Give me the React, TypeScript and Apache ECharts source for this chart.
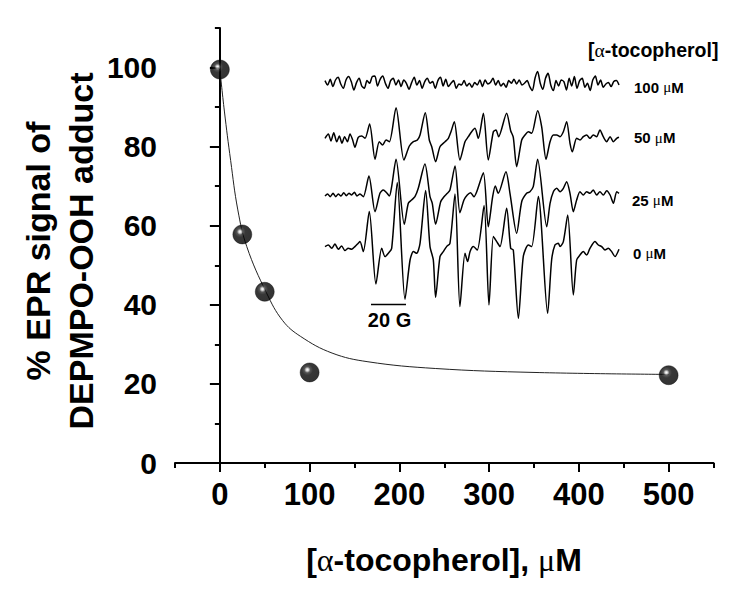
import React, { useEffect, useRef } from "react";
import * as echarts from "echarts";

// Main plot: % EPR signal vs [alpha-tocopherol]
const CONC = [0, 25, 50, 100, 500];
const SIGNAL = [99.5, 57.8, 43.3, 22.9, 22.2];

// Fitted decay curve
const FIT_X = [0, 5, 12, 20, 30, 52, 70, 90, 125, 165, 240, 350, 500];
const FIT_Y = [99.5, 89, 76.5, 64, 54.7, 43, 36, 32, 27.8, 25.6, 23.9, 22.9, 22.4];

const X_LABELS = [0, 100, 200, 300, 400, 500];
const Y_LABELS = [0, 20, 40, 60, 80, 100];

// Inset EPR spectra: [field (G), amplitude (a.u.)]
const SWEEP = 168;
const SPEC_0: number[][] = [
  [0, 1.7], [1.9, 3.3], [3.8, 0], [5.7, 4.3], [7.6, -1], [9.5, 2.3], [11.4, -2.3], [13.3, 0],
  [15.2, -1], [17.1, 1.7], [19.0, 5], [20.0, 6.7], [21.9, -3.3], [25.3, 36.7], [29.1, -35.7],
  [32.4, 0], [34.3, -8.3], [36.2, -5], [38.1, 0], [41.3, 65.7], [45.7, -51], [48.6, -11.7],
  [50.5, -3.3], [52.4, -5], [54.3, 5], [57.5, 57.7], [60.0, 1.7], [61.9, -11.7], [63.2, -49],
  [65.7, -8.3], [67.6, -3.3], [69.5, 1.7], [71.4, 5], [74.3, 54.3], [77.1, -58.3], [80.0, -5],
  [81.5, -13.3], [82.9, -3.3], [84.8, 1.7], [87.0, -1.7], [90.9, 42.7], [93.7, -56.7],
  [96.2, 11.7], [98.1, 6.7], [100, 1.7], [103.8, 40], [106.1, 0], [107.6, -1.7], [110.5, -70],
  [113.3, -8.3], [116.2, 3.3], [118.1, 1.7], [121.9, 51.7], [127.2, -65], [129.5, -11.7],
  [131.4, 3.3], [133.3, 5], [134.3, 1.7], [136.2, 6.7], [138.7, 33.3], [141.9, -46.7],
  [143.8, -11.7], [145.7, -6.7], [147.6, -3.3], [149.5, -6.7], [151.4, 0], [154.3, 6.7],
  [156.2, 3.3], [158.1, 1.7], [160.0, -1.7], [161.9, 0], [163.8, -3.3], [165.7, -8.3], [168, -1],
];
const SPEC_25: number[][] = [
  [0, -1], [1.5, 1], [3.0, -1.7], [4.6, 1.7], [6.1, -1.7], [7.6, 1], [9.1, -1], [10.7, 2.3],
  [12.2, -0.7], [13.7, 1.7], [15.2, 0], [16.8, 2.7], [18.3, -1], [20.0, 1], [21.9, -1.7],
  [25.1, 19], [28.6, -16.7], [31.4, 1.7], [33.3, 5], [35.2, 2.3], [36.8, -1], [38.1, 8.3],
  [40.6, 35.7], [45.3, -29.3], [47.6, -8.3], [49.5, -5], [51.4, -1.7], [53.3, 6.7], [57.1, 31],
  [60.0, -1.7], [61.3, -8.3], [63.2, -29.3], [66.1, -6.7], [68.0, -1.7], [69.9, 1.7], [71.4, 5],
  [74.3, 29], [77.1, -17.7], [79.4, -5], [81.3, 0], [83.2, 2.3], [85.1, -1.7], [86.7, 3.3],
  [90.5, 22.3], [93.3, -31.7], [95.8, -1.7], [97.3, 9], [99.0, 1.7], [103.4, 23.3], [105.7, 1.7],
  [109.5, -38.3], [112.4, -6.7], [115.2, 1.7], [117.1, 3.3], [119.0, 8.3], [121.5, 35.7],
  [126.7, -31.7], [128.6, -8.3], [130.5, 3.3], [132.4, 6.7], [134.3, 3.3], [136.2, 6.7],
  [138.1, 13.3], [140.0, 1.7], [141.9, -16.7], [143.8, -5], [145.7, 3.3], [147.6, 0],
  [149.5, 3.3], [151.4, 1.7], [153.3, 5], [155.2, 0], [157.1, 3.3], [159.0, 0], [161.0, 4.3],
  [162.9, 0], [164.8, -8.3], [166.7, 3.3], [168, 1.7],
];
const SPEC_50: number[][] = [
  [0, 0.7], [1.9, 5], [3.4, -2], [5.0, 6.3], [6.7, -2.7], [8.2, 3], [9.7, -4.3], [11.2, 2.3],
  [12.8, -2.7], [14.3, 5], [15.8, -1], [17.1, -8.3], [19.0, 1.7], [21.0, 3], [22.9, 0.7],
  [25.5, 15], [28.6, -20.3], [31.0, -2.7], [32.9, -6], [34.9, -1], [36.8, -2.7], [40.6, 31.3],
  [45.1, -21], [48.2, -7], [50.5, -2.7], [52.8, -1], [54.3, 4], [57.3, 26.3], [59.6, -1],
  [61.0, -7.7], [63.2, -22.7], [65.7, -7.7], [68.6, -2.7], [70.5, 0.7], [72.0, 7.3], [73.9, 17.3],
  [77.1, -21], [80.0, -2.7], [81.9, 2.3], [83.8, 7.3], [85.7, 10.7], [87.6, 0.7], [90.5, 25.7],
  [93.3, -21], [96.2, 7.3], [97.7, 9], [99.2, 2.3], [103.8, 25.7], [106.1, 8.3], [107.6, 1.7],
  [109.5, -27.7], [112.4, -1], [114.3, 4], [116.2, 7.3], [118.1, 5.7], [121.5, 28.3],
  [123.8, 12.3], [126.3, -20.3], [128.6, -2.7], [130.5, 4], [132.4, 4], [134.3, 2.3],
  [136.2, 7.3], [138.1, 17.3], [140.0, -4.3], [141.3, -12.7], [143.8, 0.7], [145.7, -1],
  [147.6, 2.3], [149.5, 4], [151.4, 0.7], [153.3, 4], [155.2, 2.3], [157.1, 9], [159.0, 2.3],
  [161.0, -2.7], [162.9, 2.3], [164.8, -2.7], [166.7, 0.7], [168, 1.7],
];
// 100 uM: noise only, read at evenly spaced field positions across the sweep
const SPEC_100_AMP = [
  2.7, -1.7, 4, -3.3, 3.3, 6, -0.7, -5, 3.3, 6.7, 1.7, -6.7, 0.7, 5, -2.7, -5, 2.7, 0, 6.7, 7.3,
  -2.7, 4, 7.3, 0, -5, 2.7, 5, -1.7, 3.3, -3.3, 3.3, 0, -6, 0.7, 6, -1.7, 2.7, -5, 1.7, 5,
  0, 1.7, -5, 2.7, 6, -2.7, 4, -3.3, 0, 2.7, -5, -0.7, -1.7, 2.7, -2.7, 0, -4, 0.7, -1.7, 3.3,
  -3.3, 3.3, -0.7, 0.7, 5, -1.7, 2.7, -2.7, 0, -4, 2.7, 0, 4, -0.7, 3.3, -1.7, 0, 2.7, -3.3, -7.3,
  5, 11.7, 0, -6, 5, 10, -1.7, -7.3, 2.7, -2.7, 3.3, 1.7, -6.7, 5, -2.7, 6.7, -5, 2.7, 5, -4,
  0, -7.3, 3.3, 7.3, -1.7, 3.3, -4, -0.7, 0.7, -3.3, 1.7, 2.7, -1.7,
];
const SPEC_100: number[][] = SPEC_100_AMP.map((a, i) => [(i * SWEEP) / (SPEC_100_AMP.length - 1), a]);

const TRACES = [
  { name: "100 μM", data: SPEC_100 },
  { name: "50 μM", data: SPEC_50 },
  { name: "25 μM", data: SPEC_25 },
  { name: "0 μM", data: SPEC_0 },
];

const FONT = "Liberation Sans";
const SERIF = "Liberation Serif";

function buildOption() {
  const ball = new echarts.graphic.RadialGradient(0.38, 0.36, 0.65, [
    { offset: 0, color: "#ffffff" },
    { offset: 0.1, color: "#cfcfcf" },
    { offset: 0.25, color: "#2a2a2a" },
    { offset: 0.45, color: "#050505" },
    { offset: 1, color: "#000000" },
  ]);

  // inset trace layout (baselines in px)
  const baselines = [83.3, 139, 195, 248.3];
  const insetLeft = 325;
  const insetWidth = 294;

  const grids: any[] = [{ left: 175, right: 36.5, top: 28, bottom: 131 }];
  const xAxes: any[] = [
    {
      gridIndex: 0, type: "value", min: -50, max: 550, interval: 50,
      axisLine: { show: true, lineStyle: { color: "#000", width: 2 } },
      axisTick: { show: true, length: 5, lineStyle: { color: "#000", width: 2 } },
      axisLabel: { show: false }, splitLine: { show: false },
    },
    {
      gridIndex: 0, type: "value", min: -50, max: 550, position: "bottom",
      axisLine: { show: false },
      axisTick: { show: true, length: 9, customValues: X_LABELS, lineStyle: { color: "#000", width: 2 } },
      axisLabel: {
        show: true, customValues: X_LABELS, margin: 16,
        fontSize: 31, fontWeight: "bold", fontFamily: FONT, color: "#000",
      },
      splitLine: { show: false },
    },
  ];
  const yAxes: any[] = [
    {
      gridIndex: 0, type: "value", min: 0, max: 110, interval: 10,
      axisLine: { show: true, lineStyle: { color: "#000", width: 2 } },
      axisTick: { show: true, length: 5, lineStyle: { color: "#000", width: 2 } },
      axisLabel: { show: false }, splitLine: { show: false },
    },
    {
      gridIndex: 0, type: "value", min: 0, max: 110, position: "left",
      axisLine: { show: false },
      axisTick: { show: true, length: 10, customValues: Y_LABELS, lineStyle: { color: "#000", width: 2 } },
      axisLabel: {
        show: true, customValues: Y_LABELS, margin: 18,
        fontSize: 30, fontWeight: "bold", fontFamily: FONT, color: "#000",
      },
      splitLine: { show: false },
    },
  ];

  const series: any[] = [
    {
      type: "line", xAxisIndex: 0, yAxisIndex: 0,
      data: FIT_X.map((x, i) => [x, FIT_Y[i]]),
      smooth: 0.4, showSymbol: false, symbol: "none",
      lineStyle: { color: "#222", width: 1 }, z: 2, silent: true,
    },
    {
      type: "scatter", xAxisIndex: 0, yAxisIndex: 0,
      data: CONC.map((x, i) => [x, SIGNAL[i]]),
      symbol: "circle", symbolSize: 19,
      itemStyle: { color: ball, borderColor: "#000", borderWidth: 0.5 }, z: 3,
    },
  ];

  TRACES.forEach((t, k) => {
    const gi = k + 1;
    grids.push({ left: insetLeft, width: insetWidth, top: baselines[k] - 80, height: 160 });
    xAxes.push({ gridIndex: gi, type: "value", min: 0, max: SWEEP, show: false });
    yAxes.push({ gridIndex: gi, type: "value", min: -80, max: 80, show: false });
    series.push({
      type: "line", name: t.name, xAxisIndex: gi + 1, yAxisIndex: gi + 1,
      data: t.data, showSymbol: false, symbol: "none", smooth: 0.25,
      lineStyle: { color: "#000", width: 1.5 }, z: 4, silent: true,
    });
  });

  const concLabel = (txt: string, x: number, y: number) => ({
    type: "text", x, y,
    style: {
      text: `{b|${txt} }{g|μ}{b|M}`,
      align: "left", verticalAlign: "middle",
      rich: {
        b: { fontSize: 15, fontWeight: "bold", fontFamily: FONT, fill: "#000", color: "#000" },
        g: { fontSize: 15, fontFamily: SERIF, fill: "#000", color: "#000" },
      },
    },
  });

  const graphic: any[] = [
    {
      type: "text", x: 59.5, y: 251, rotation: Math.PI / 2,
      style: {
        text: "% EPR signal of\nDEPMPO-OOH adduct",
        fontSize: 34, fontWeight: "bold", fontFamily: FONT, fill: "#000",
        align: "center", verticalAlign: "middle", lineHeight: 43,
      },
    },
    {
      type: "text", x: 444, y: 560,
      style: {
        text: "{b|[}{g|α}{b|-tocopherol], }{g|μ}{b|M}",
        align: "center", verticalAlign: "middle",
        rich: {
          b: { fontSize: 32, fontWeight: "bold", fontFamily: FONT, fill: "#000", color: "#000" },
          g: { fontSize: 32, fontFamily: SERIF, fill: "#000", color: "#000" },
        },
      },
    },
    {
      type: "text", x: 588, y: 50,
      style: {
        text: "{b|[}{g|α}{b|-tocopherol]}",
        align: "left", verticalAlign: "middle",
        rich: {
          b: { fontSize: 19.5, fontWeight: "bold", fontFamily: FONT, fill: "#000", color: "#000" },
          g: { fontSize: 19.5, fontFamily: SERIF, fill: "#000", color: "#000" },
        },
      },
    },
    concLabel("100", 634, 87),
    concLabel("50", 634, 137.5),
    concLabel("25", 632, 200),
    concLabel("0", 633, 253),
    {
      type: "line",
      shape: { x1: 371, y1: 304.5, x2: 406, y2: 304.5 },
      style: { stroke: "#000", lineWidth: 1.5 },
    },
    {
      type: "text", x: 389.5, y: 320,
      style: {
        text: "20 G", fontSize: 20, fontWeight: "bold", fontFamily: FONT, fill: "#000",
        align: "center", verticalAlign: "middle",
      },
    },
  ];

  return {
    animation: false,
    backgroundColor: "#fff",
    grid: grids,
    xAxis: xAxes,
    yAxis: yAxes,
    series,
    graphic,
  };
}

export default function App() {
  const ref = useRef<HTMLDivElement>(null);
  useEffect(() => {
    if (!ref.current) return;
    const chart = echarts.init(ref.current, null, { renderer: "svg" });
    chart.setOption(buildOption() as any);
    return () => chart.dispose();
  }, []);
  return (
    <div
      ref={ref}
      style={{ position: "fixed", left: 0, top: 0, width: 750, height: 594, background: "#fff" }}
    />
  );
}
